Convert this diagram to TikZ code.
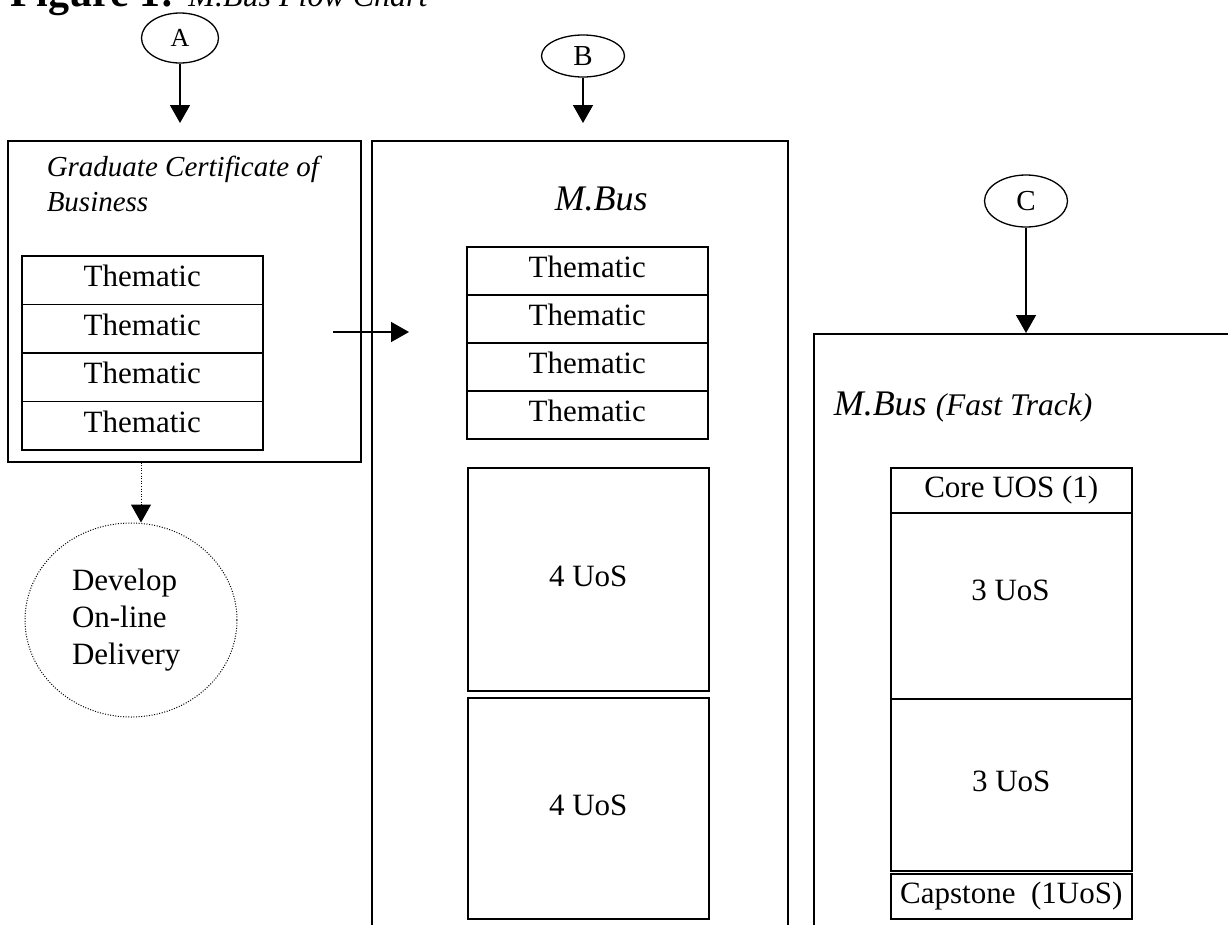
\documentclass[tikz,border=0pt]{standalone}
\usepackage{fontspec}
\setmainfont{Liberation Serif}
\usetikzlibrary{arrows.meta,shapes.geometric}
\begin{document}
\begin{tikzpicture}[x=1pt,y=-1pt,line width=1.5pt,
  frame/.style={draw,rectangle,inner sep=0pt,anchor=north west},
  txt/.style={font=\fontsize{31}{37}\selectfont},
  strut/.style={text height=21pt,text depth=7.5pt},
  row/.style={frame,txt,strut,minimum width=241pt,minimum height=48.5pt},
  oval/.style={draw,ellipse,inner sep=0pt,line width=1.3pt},
  arr/.style={-{Triangle[width=20pt,length=18pt]}},
  darr/.style={-{Triangle[width=20pt,length=18pt]},line width=1pt,dash pattern=on 1pt off 1.6pt}]
\useasboundingbox (0,0) rectangle (1228,924);
\fill[white] (0,0) rectangle (1228,924);

% title (cut off at the top)
\node[anchor=base west,inner sep=0pt] (title) at (10,6)
  {{\fontsize{42}{42}\selectfont\bfseries Figure 1: }{\fontsize{32}{32}\selectfont\itshape M.Bus Flow Chart}};

% entry ovals
\node[oval,minimum width=77pt,minimum height=50pt,font=\fontsize{26}{26}\selectfont] (cA) at (180,38) {A};
\node[oval,minimum width=83pt,minimum height=42pt,font=\fontsize{29}{29}\selectfont] (cB) at (583,56) {B};
\node[oval,minimum width=83pt,minimum height=52pt,font=\fontsize{29}{29}\selectfont] (cC) at (1026,201) {C};

% main boxes
\node[frame,minimum width=353pt,minimum height=321pt] (boxA) at (7,140) {};
\node[frame,minimum width=416pt,minimum height=800pt] (boxB) at (371,140) {};
\node[frame,minimum width=430pt,minimum height=610pt] (boxC) at (813,333) {};

% arrows from ovals
\coordinate (tA) at (180,123);
\coordinate (tB) at (583,123);
\draw[arr] (cA.south) -- (tA);
\draw[arr] (cB.south) -- (tB);
\draw[arr] (cC.south) -- (cC.south |- boxC.north);

% box A
\node[anchor=north west,inner sep=0pt,align=left,font=\fontsize{29}{35}\selectfont\itshape] (titA) at (46,155)
  {Graduate Certificate of\\Business};
\node[row] (a1) at (21,255) {Thematic};
\node[row] (a2) at (21,303.5) {Thematic};
\node[row] (a3) at (21,352) {Thematic};
\node[row] (a4) at (21,400.5) {Thematic};

% develop on-line delivery
\node[draw,ellipse,line width=1pt,dash pattern=on 1pt off 1.6pt,minimum width=212pt,minimum height=194pt,
  inner sep=0pt,text width=118pt,align=left,txt] (dev) at (131,620) {Develop\\On-line\\Delivery};
\coordinate (dA) at ([xshift=134pt]boxA.south west);
\draw[darr] (dA) -- (dA |- dev.north);

% arrow A -> B
\coordinate (s1) at (333,332);
\coordinate (e1) at (409,332);
\draw[arr] (s1) -- (e1);

% box B
\node[anchor=base west,inner sep=0pt,font=\fontsize{36}{36}\selectfont\itshape] (titB) at (554,210) {M.Bus};
\node[row,minimum height=48pt] (b1) at (466,246) {Thematic};
\node[row,minimum height=48pt] (b2) at (466,294) {Thematic};
\node[row,minimum height=48pt] (b3) at (466,342) {Thematic};
\node[row,minimum height=48pt] (b4) at (466,390) {Thematic};
\node[frame,txt,strut,minimum width=241pt,minimum height=223pt] (u1) at (467,467) {4 UoS};
\node[frame,txt,strut,minimum width=241pt,minimum height=221pt] (u2) at (467,697) {4 UoS};

% box C
\node[anchor=base west,inner sep=0pt] (titC) at (833,415)
  {{\fontsize{36}{36}\selectfont\itshape M.Bus }{\fontsize{31.5}{31.5}\selectfont\itshape (Fast Track)}};
\node[frame,txt,strut,minimum width=241pt,minimum height=45pt] (core) at (890,467) {Core UOS (1)};
\node[frame,minimum width=241pt,minimum height=186pt] (k1) at (890,512) {};
\node[txt,anchor=base,inner sep=0pt] (k1t) at (1010.5,600) {3 UoS};
\node[frame,txt,strut,minimum width=241pt,minimum height=172pt] (k2) at (890,698) {3 UoS};
\node[frame,txt,strut,minimum width=241pt,minimum height=45pt] (cap) at (890,873) {Capstone\ \ (1UoS)};
\end{tikzpicture}
\end{document}
